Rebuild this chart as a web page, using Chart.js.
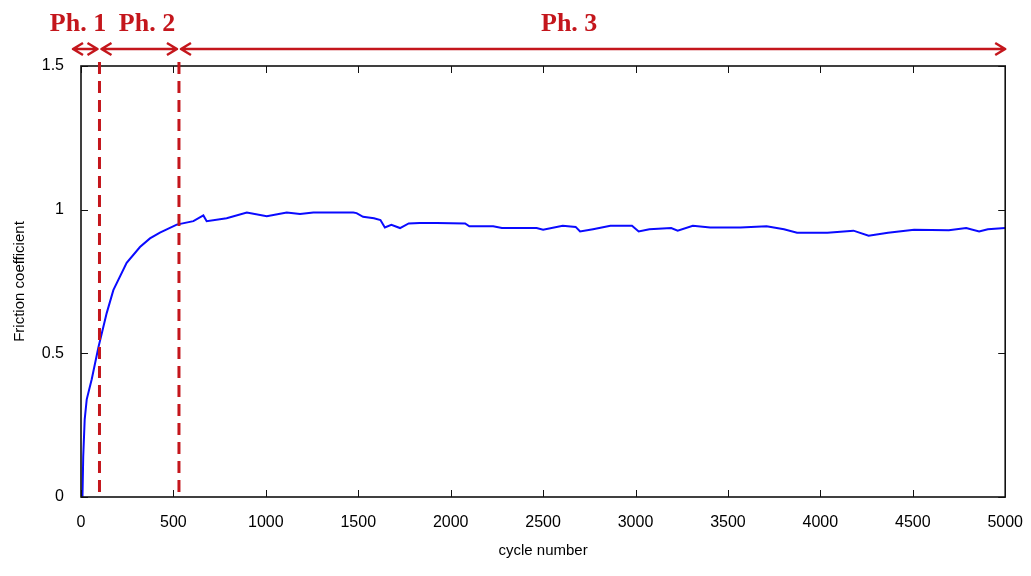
<!DOCTYPE html>
<html>
<head>
<meta charset="utf-8">
<script src="https://cdn.jsdelivr.net/npm/chart.js@4"></script>
<style>
  html, body { margin: 0; padding: 0; background: #fff; }
  #wrap { width: 1031px; height: 576px; }
</style>
</head>
<body>
<div id="wrap"><canvas id="frictionChart"></canvas></div>
<script>
// cycle number vs friction coefficient
const cycles = [8, 12, 20, 31, 58, 94, 139, 175, 247, 319, 373, 427, 518, 608, 662, 680, 788, 897,
    1005, 1113, 1185, 1257, 1473, 1491, 1526, 1585, 1620, 1644, 1679, 1726, 1773, 1832, 1925,
    2078, 2101, 2230, 2277, 2465, 2500, 2606, 2676, 2700, 2770, 2864, 2981, 3017, 3075, 3193,
    3228, 3310, 3404, 3568, 3709, 3803, 3874, 4038, 4179, 4261, 4366, 4507, 4695, 4789, 4859,
    4906, 5000];
const friction = [0, 0.14, 0.27, 0.34, 0.41, 0.52, 0.64, 0.72, 0.815, 0.87, 0.90, 0.92, 0.948, 0.96,
    0.98, 0.96, 0.97, 0.99, 0.977, 0.99, 0.985, 0.99, 0.99, 0.988, 0.975, 0.97, 0.964, 0.938,
    0.947, 0.936, 0.952, 0.954, 0.954, 0.952, 0.942, 0.942, 0.936, 0.936, 0.93, 0.944, 0.94,
    0.924, 0.932, 0.944, 0.944, 0.924, 0.932, 0.936, 0.927, 0.944, 0.938, 0.938, 0.942, 0.932,
    0.92, 0.92, 0.927, 0.909, 0.92, 0.93, 0.928, 0.936, 0.924, 0.932, 0.936];

const xTicks = [0, 500, 1000, 1500, 2000, 2500, 3000, 3500, 4000, 4500, 5000];
const yTicks = [0, 0.5, 1, 1.5];

// phase boundaries (cycles) and names
const phaseBounds = [0, 100, 530, 5000];
const phaseNames = ['Ph. 1', 'Ph. 2', 'Ph. 3'];

const RED = '#c4161c';

// matlab-like box with inward tick marks
const boxPlugin = {
    id: 'box',
    afterDraw(chart) {
        const {ctx, chartArea: a, scales: {x, y}} = chart;
        ctx.save();
        ctx.strokeStyle = '#111';
        ctx.lineWidth = 1;
        ctx.beginPath();
        xTicks.forEach(v => {
            const px = Math.round(x.getPixelForValue(v)) + 0.5;
            ctx.moveTo(px, a.bottom); ctx.lineTo(px, a.bottom - 7);
            ctx.moveTo(px, a.top); ctx.lineTo(px, a.top + 7);
        });
        yTicks.forEach(v => {
            const py = Math.round(y.getPixelForValue(v)) + 0.5;
            ctx.moveTo(a.left, py); ctx.lineTo(a.left + 7, py);
            ctx.moveTo(a.right, py); ctx.lineTo(a.right - 7, py);
        });
        ctx.stroke();
        ctx.lineWidth = 1.6;
        ctx.strokeRect(a.left, a.top, a.right - a.left, a.bottom - a.top);
        ctx.restore();
    }
};

function arrowHead(ctx, x, y, dir) {
    ctx.moveTo(x + dir * 10, y - 6);
    ctx.lineTo(x, y);
    ctx.lineTo(x + dir * 10, y + 6);
}

// dashed phase dividers, double arrows and labels
const phasePlugin = {
    id: 'phases',
    afterDraw(chart, args, opts) {
        const {ctx, chartArea: a, scales: {x}} = chart;
        ctx.save();
        ctx.strokeStyle = RED;
        ctx.lineWidth = 3;
        ctx.setLineDash([12, 7]);
        phaseBounds.slice(1, -1).forEach(v => {
            const px = x.getPixelForValue(v);
            ctx.beginPath();
            ctx.moveTo(px, a.top - 4);
            ctx.lineTo(px, a.bottom);
            ctx.stroke();
        });
        ctx.setLineDash([]);
        const ay = opts.arrowY;
        ctx.lineWidth = 2.5;
        ctx.lineJoin = 'round';
        for (let i = 0; i < phaseNames.length; i++) {
            let x0 = x.getPixelForValue(phaseBounds[i]) + 2;
            let x1 = x.getPixelForValue(phaseBounds[i + 1]) - 2;
            if (i === 0) x0 -= 10;
            if (i === phaseNames.length - 1) x1 += 2;
            ctx.beginPath();
            ctx.moveTo(x0, ay); ctx.lineTo(x1, ay);
            arrowHead(ctx, x0, ay, 1);
            arrowHead(ctx, x1, ay, -1);
            ctx.stroke();
        }
        ctx.fillStyle = RED;
        ctx.font = 'bold 26px "Liberation Serif", "Times New Roman", serif';
        ctx.textAlign = 'center';
        ctx.textBaseline = 'alphabetic';
        phaseNames.forEach((name, i) => {
            ctx.fillText(name, x.getPixelForValue(opts.labelAt[i]), opts.labelY);
        });
        ctx.restore();
    }
};

const ctx = document.getElementById('frictionChart').getContext('2d');
const frictionChart = new Chart(ctx, {
    type: 'line',
    data: {
        datasets: [{
            label: 'Friction coefficient',
            data: cycles.map((c, i) => ({x: c, y: friction[i]})),
            borderColor: '#0a0aff',
            borderWidth: 2,
            pointRadius: 0,
            tension: 0,
            fill: false
        }]
    },
    options: {
        responsive: true,
        maintainAspectRatio: false,
        animation: false,
        layout: {
            padding: {left: 0, right: 25, top: 66, bottom: 0}
        },
        plugins: {
            legend: {display: false},
            tooltip: {enabled: false},
            phases: {arrowY: 49, labelY: 31, labelAt: [-16, 357, 2641]}
        },
        scales: {
            x: {
                type: 'linear',
                min: 0,
                max: 5000,
                afterFit: s => { s.height = 79; },
                afterBuildTicks: s => { s.ticks = xTicks.map(v => ({value: v})); },
                grid: {display: false},
                border: {display: false},
                ticks: {
                    color: '#000',
                    padding: 8,
                    maxRotation: 0,
                    callback: v => String(v),
                    font: {family: '"Liberation Sans", Arial, sans-serif', size: 16}
                },
                title: {
                    display: true,
                    text: 'cycle number',
                    color: '#000',
                    padding: {top: 0, bottom: 16},
                    font: {family: '"Liberation Sans", Arial, sans-serif', size: 15}
                }
            },
            y: {
                min: 0,
                max: 1.5,
                afterFit: s => { s.width = 81; },
                afterBuildTicks: s => { s.ticks = yTicks.map(v => ({value: v})); },
                grid: {display: false},
                border: {display: false},
                ticks: {
                    color: '#000',
                    padding: 9,
                    callback: v => String(v),
                    font: {family: '"Liberation Sans", Arial, sans-serif', size: 16}
                },
                title: {
                    display: true,
                    text: 'Friction coefficient',
                    color: '#000',
                    padding: {top: 11, bottom: 0},
                    font: {family: '"Liberation Sans", Arial, sans-serif', size: 15}
                }
            }
        }
    },
    plugins: [boxPlugin, phasePlugin]
});
</script>
</body>
</html>
